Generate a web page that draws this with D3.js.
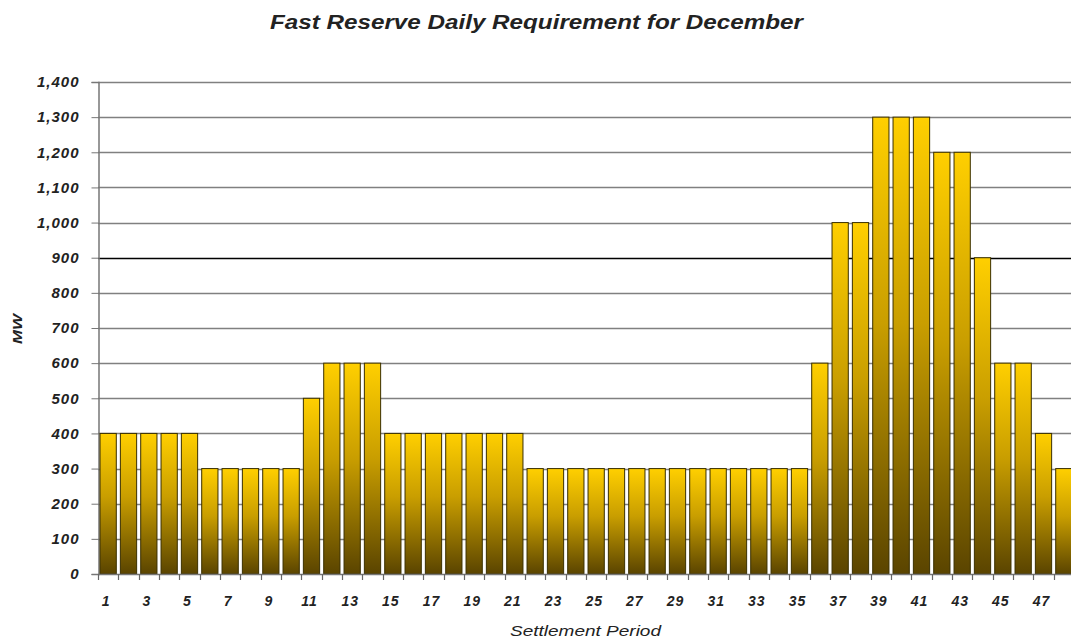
<!DOCTYPE html>
<html>
<head>
<meta charset="utf-8">
<script src="https://cdn.jsdelivr.net/npm/d3@7"></script>
<style>
  body { margin: 0; background: #fff; }
  svg text { font-family: "Liberation Sans", Arial, sans-serif; fill: #222; }
</style>
</head>
<body>
<svg id="chart" width="1071" height="639"></svg>
<script>
// settlement periods 1..48
const periods = d3.range(1, 49);
const requirement = [
  400, 400, 400, 400, 400, 300, 300, 300, 300, 300,
  500, 600, 600, 600, 400, 400, 400, 400, 400, 400,
  400, 300, 300, 300, 300, 300, 300, 300, 300, 300,
  300, 300, 300, 300, 300, 600, 1000, 1000, 1300, 1300,
  1300, 1200, 1200, 900, 600, 600, 400, 300
];
const yTicks = [0, 100, 200, 300, 400, 500, 600, 700, 800, 900, 1000, 1100, 1200, 1300, 1400];
const thresholdLine = 900;
const titleText = "Fast Reserve Daily Requirement for December";

let svg = d3.select('#chart'),
    margin = { top: 82, left: 98, bottom: 65 },
    plotRight = 1074,
    height = 639 - margin.top - margin.bottom;

let data = periods.map((p, i) => ({ p: p, v: requirement[i] }));

let xScale = d3.scaleBand()
    .domain(periods)
    .range([margin.left, plotRight])
    .paddingInner(0.2)
    .paddingOuter(0.1);

let yScale = d3.scaleLinear()
    .domain([0, 1400])
    .range([margin.top + height, margin.top]);

// gradient for bars
let defs = svg.append('defs');
let grad = defs.append('linearGradient')
    .attr('id', 'barGrad')
    .attr('x1', 0).attr('y1', 0).attr('x2', 0).attr('y2', 1);
grad.append('stop').attr('offset', '0%').attr('stop-color', '#ffcf00');
grad.append('stop').attr('offset', '45%').attr('stop-color', '#c99e00');
grad.append('stop').attr('offset', '100%').attr('stop-color', '#5a4400');

// title
svg.append('text')
    .attr('x', 270)
    .attr('y', 29)
    .attr('textLength', 533)
    .attr('lengthAdjust', 'spacingAndGlyphs')
    .style('font-size', '20px')
    .style('font-weight', 'bold')
    .style('font-style', 'italic')
    .text(titleText);

// gridlines
svg.append('g')
    .selectAll('line')
    .data(yTicks.filter(d => d > 0))
    .join('line')
    .attr('x1', margin.left)
    .attr('x2', 1071)
    .attr('y1', d => Math.round(yScale(d)) + 0.5)
    .attr('y2', d => Math.round(yScale(d)) + 0.5)
    .attr('stroke', d => d === thresholdLine ? '#000' : '#808080')
    .attr('stroke-width', d => d === thresholdLine ? 1.6 : 1.3);

// y axis
let yAxis = svg.append('g')
    .attr('class', 'y-axis')
    .attr('transform', 'translate(' + (margin.left + 0.5) + ',0)')
    .call(d3.axisLeft(yScale)
        .tickValues(yTicks)
        .tickSize(7)
        .tickPadding(12)
        .tickFormat(d3.format(',')));

yAxis.select('.domain').attr('stroke', '#777').attr('stroke-width', 1.5);
yAxis.selectAll('.tick line').attr('stroke', '#777');
yAxis.selectAll('.tick text')
    .style('font-size', '15px')
    .style('font-weight', 'bold')
    .style('font-style', 'italic')
    .style('letter-spacing', '1px')
    .attr('fill', '#222');

// bars
svg.append('g')
    .selectAll('rect')
    .data(data)
    .join('rect')
    .attr('x', d => xScale(d.p))
    .attr('y', d => yScale(d.v))
    .attr('width', xScale.bandwidth())
    .attr('height', d => yScale(0) - yScale(d.v))
    .attr('fill', 'url(#barGrad)')
    .attr('stroke', '#3a3000')
    .attr('stroke-width', 1);

// x axis baseline and ticks at category boundaries
let step = xScale.step();
let boundaries = periods.map(p => xScale(p) - step * 0.1);
let xg = svg.append('g').attr('class', 'x-axis');

xg.append('line')
    .attr('x1', margin.left)
    .attr('x2', 1071)
    .attr('y1', yScale(0) + 0.5)
    .attr('y2', yScale(0) + 0.5)
    .attr('stroke', '#777')
    .attr('stroke-width', 1.5);

xg.selectAll('.xtick')
    .data(boundaries)
    .join('line')
    .attr('class', 'xtick')
    .attr('x1', d => Math.round(d) + 0.5)
    .attr('x2', d => Math.round(d) + 0.5)
    .attr('y1', yScale(0))
    .attr('y2', yScale(0) + 6)
    .attr('stroke', '#666')
    .attr('stroke-width', 1.2);

xg.selectAll('.xlabel')
    .data(periods.filter(p => p % 2 === 1))
    .join('text')
    .attr('class', 'xlabel')
    .attr('x', d => xScale(d) + xScale.bandwidth() / 2 - 2)
    .attr('y', yScale(0) + 32)
    .attr('text-anchor', 'middle')
    .style('font-size', '14px')
    .style('font-weight', 'bold')
    .style('font-style', 'italic')
    .style('letter-spacing', '1px')
    .text(d => d);

// axis titles
svg.append('text')
    .attr('x', 510)
    .attr('y', 636)
    .attr('textLength', 151)
    .attr('lengthAdjust', 'spacingAndGlyphs')
    .style('font-size', '14px')
    .style('font-style', 'italic')
    .text('Settlement Period');

svg.append('text')
    .attr('transform', 'translate(22,' + 329 + ') rotate(-90)')
    .attr('text-anchor', 'middle')
    .attr('textLength', 30)
    .attr('lengthAdjust', 'spacingAndGlyphs')
    .style('font-size', '12px')
    .style('font-weight', 'bold')
    .style('font-style', 'italic')
    .text('MW');
</script>
</body>
</html>
